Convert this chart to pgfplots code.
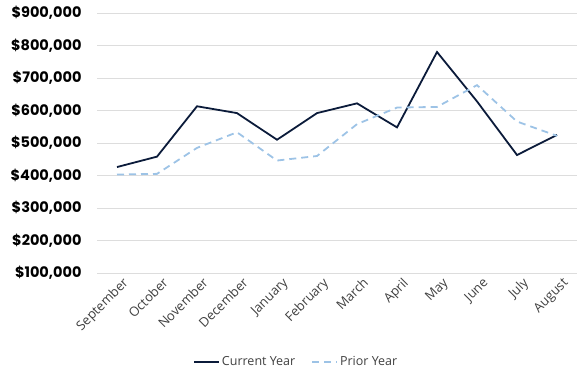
\documentclass[border=0pt]{standalone}
\usepackage{pgfplots}
\pgfplotsset{compat=1.18}
\usepackage{fontspec}
\setmainfont{Open Sans}
\newfontfamily\yfont{Poppins}
\definecolor{curr}{HTML}{0B1B3A}
\definecolor{prior}{HTML}{9DC3E6}
\definecolor{gridc}{HTML}{DDDDDD}
\definecolor{labc}{HTML}{404040}
\begin{document}
\begin{tikzpicture}[x=1pt,y=1pt]
\useasboundingbox (0,0) rectangle (577,379);
\begin{axis}[
  at={(97pt,106pt)}, anchor=south west,
  scale only axis, width=480pt, height=260pt,
  xmin=-0.5, xmax=11.5, ymin=100000, ymax=900000,
  scaled y ticks=false,
  axis line style={draw=none},
  major tick length=0pt,
  xtick={0,...,11},
  xticklabels={September,October,November,December,January,February,March,April,May,June,July,August},
  xticklabel style={font=\fontsize{13}{15}\selectfont\color{labc}, rotate=45, anchor=north east, inner sep=1pt, yshift=-5pt, xshift=2pt},
  ytick={100000,200000,300000,400000,500000,600000,700000,800000,900000},
  yticklabels={{\$100,000},{\$200,000},{\$300,000},{\$400,000},{\$500,000},{\$600,000},{\$700,000},{\$800,000},{\$900,000}},
  yticklabel style={font=\yfont\bfseries\fontsize{14.5}{16}\selectfont, anchor=east, xshift=-12pt},
  ymajorgrids, grid style={gridc, line width=0.8pt},
  legend style={at={(0.415,-0.342)}, anchor=center, draw=none, fill=none, legend columns=2,
    font=\fontsize{12.5}{14}\selectfont\color{labc}, /tikz/every even column/.append style={column sep=14pt}},
  legend image code/.code={\draw[#1] (0pt,0pt) -- (25pt,0pt);},
]
\addplot[curr, line width=1.8pt] coordinates {
(0,426000) (1,458000) (2,613000) (3,592000) (4,510000) (5,592000)
(6,622000) (7,548000) (8,780000) (9,628000) (10,463000) (11,525000)};
\addlegendentry{Current Year}
\addplot[prior, line width=1.8pt, dash pattern=on 7pt off 5pt] coordinates {
(0,403000) (1,405000) (2,485000) (3,533000) (4,446000) (5,460000)
(6,558000) (7,609000) (8,611000) (9,678000) (10,566000) (11,522000)};
\addlegendentry{Prior Year}
\end{axis}
\end{tikzpicture}
\end{document}
